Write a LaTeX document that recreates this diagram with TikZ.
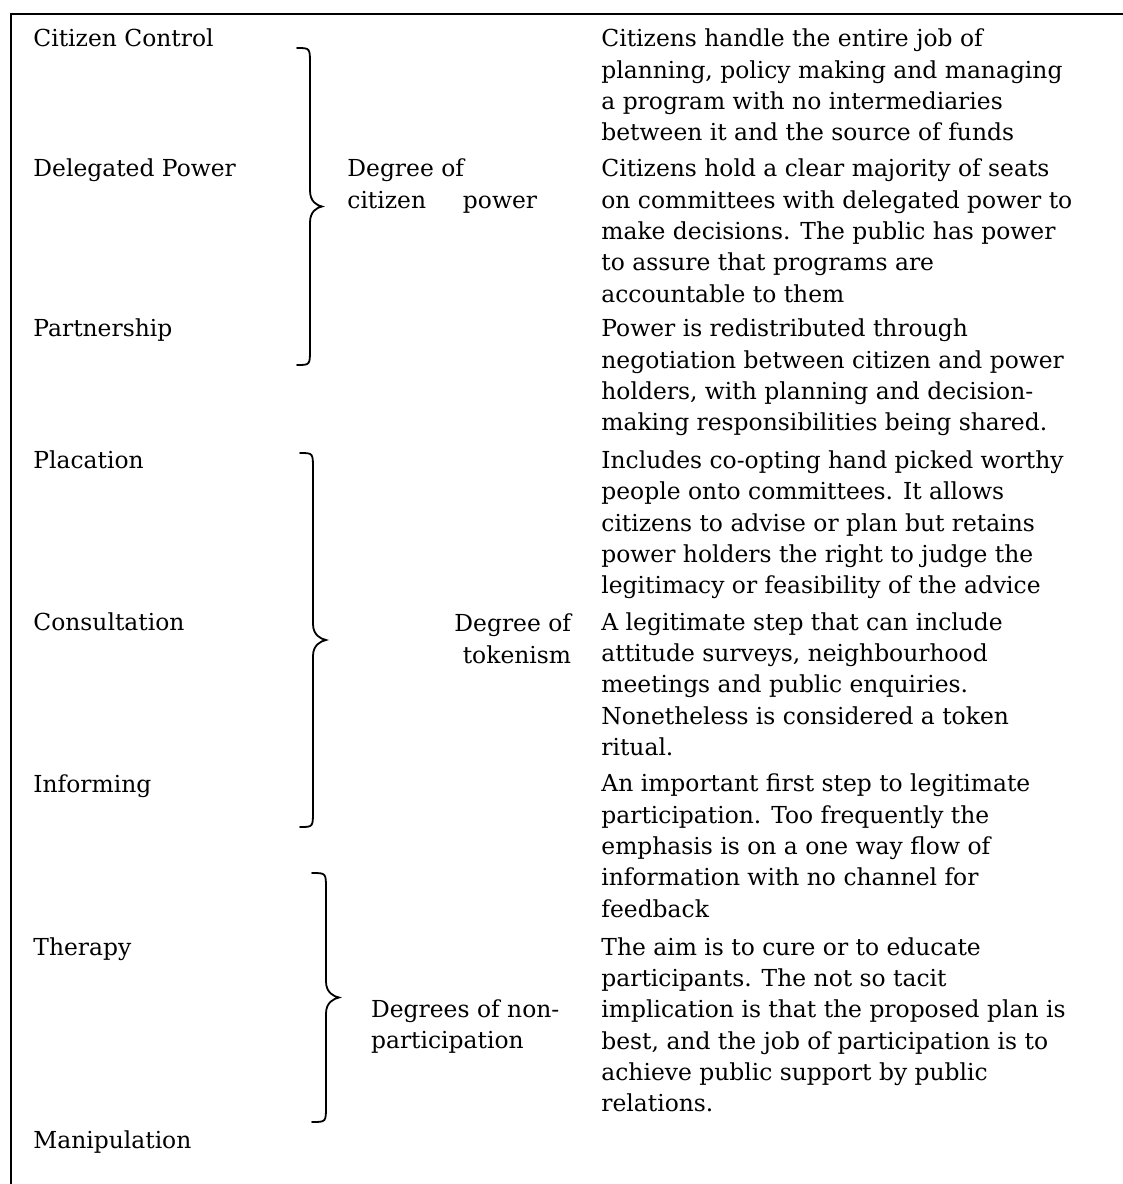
\documentclass[tikz,border=0pt]{standalone}
\usepackage{fontspec}
\setmainfont{DejaVu Serif}
% body type on a 15.675pt leading
\newcommand\ladderfont{\fontsize{11.7}{15.675}\selectfont}
% a block of lines whose reference point is the first baseline
\newcommand\lines[2][260pt]{\parbox[t]{#1}{\raggedright #2}}
% right curly brace: end x, spine x, tip x, top y, bottom y, bend radius
\newcommand\ladderbrace[6]{%
  \draw[bracestroke] (#1,#4) .. controls ({#2},#4) .. ({#2},{#4+#6})
    -- ({#2},{(#4+#5)/2-#6})
    .. controls ({#2},{(#4+#5)/2-0.3*#6}) and ({#3-5},{(#4+#5)/2-1}) .. ({#3},{(#4+#5)/2})
    .. controls ({#3-5},{(#4+#5)/2+1}) and ({#2},{(#4+#5)/2+0.3*#6}) .. ({#2},{(#4+#5)/2+#6})
    -- ({#2},{#5-#6}) .. controls ({#2},#5) .. (#1,#5);}
\begin{document}
\begin{tikzpicture}[x=0.5pt,y=-0.5pt,
  txt/.style={anchor=base west, inner sep=0pt, font=\ladderfont},
  txtr/.style={anchor=base east, inner sep=0pt, font=\ladderfont},
  rulestroke/.style={line width=1pt, black},
  bracestroke/.style={line width=0.9pt, black, line cap=round}]
\useasboundingbox (0,0) rectangle (1123,1184);
\fill[white] (0,0) rectangle (1123,1184);

% table frame
\draw[rulestroke] (11,1184) -- (11,14) -- (1123,14);

% rungs of the ladder
\node[txt] (cc)  at (33,46.7)  {Citizen Control};
\node[txt] (dp)  at (33,176.7) {Delegated Power};
\node[txt] (pa)  at (33,336.7) {Partnership};
\node[txt] (pl)  at (33,468.5) {Placation};
\node[txt] (co)  at (33,630.5) {Consultation};
\node[txt] (inf) at (33,792)   {Informing};
\node[txt] (th)  at (33,955)   {Therapy};
\node[txt] (ma)  at (33,1148)  {Manipulation};

% groupings
\ladderbrace{297}{310}{322}{48}{365}{16}
\ladderbrace{300}{313}{326}{453}{827}{16}
\ladderbrace{312}{326}{339}{873}{1122}{16}

\node[txt] (gpow) at (347,176.7)
  {\lines[94.85pt]{Degree of\\\makebox[94.85pt][s]{citizen power}}};
\node[txtr] (gtok) at (571.5,631.7)
  {\parbox[t]{80pt}{\raggedleft Degree of\\tokenism}};
\node[txt] (gnon) at (370.7,1017.3)
  {\lines[100pt]{Degrees of non-\\participation}};

% descriptions
\node[txt] (d1) at (601,46.7) {\lines{Citizens handle the entire job of\\
  planning, policy making and managing\\
  a program with no intermediaries\\
  between it and the source of funds}};
\node[txt] (d2) at (601,176.7) {\lines{Citizens hold a clear majority of seats\\
  on committees with delegated power to\\
  make decisions. The public has power\\
  to assure that programs are\\
  accountable to them}};
\node[txt] (d3) at (601,336.7) {\lines{Power is redistributed through\\
  negotiation between citizen and power\\
  holders, with planning and decision-\\
  making responsibilities being shared.}};
\node[txt] (d4) at (601,468.3) {\lines{Includes co-opting hand picked worthy\\
  people onto committees. It allows\\
  citizens to advise or plan but retains\\
  power holders the right to judge the\\
  legitimacy or feasibility of the advice}};
\node[txt] (d5) at (601,630) {\lines{A legitimate step that can include\\
  attitude surveys, neighbourhood\\
  meetings and public enquiries.\\
  Nonetheless is considered a token\\
  ritual.}};
\node[txt] (d6) at (601,791.7) {\lines{An important first step to legitimate\\
  participation. Too frequently the\\
  emphasis is on a one way flow of\\
  information with no channel for\\
  feedback}};
\node[txt] (d7) at (601,955) {\lines{The aim is to cure or to educate\\
  participants. The not so tacit\\
  implication is that the proposed plan is\\
  best, and the job of participation is to\\
  achieve public support by public\\
  relations.}};
\end{tikzpicture}
\end{document}
